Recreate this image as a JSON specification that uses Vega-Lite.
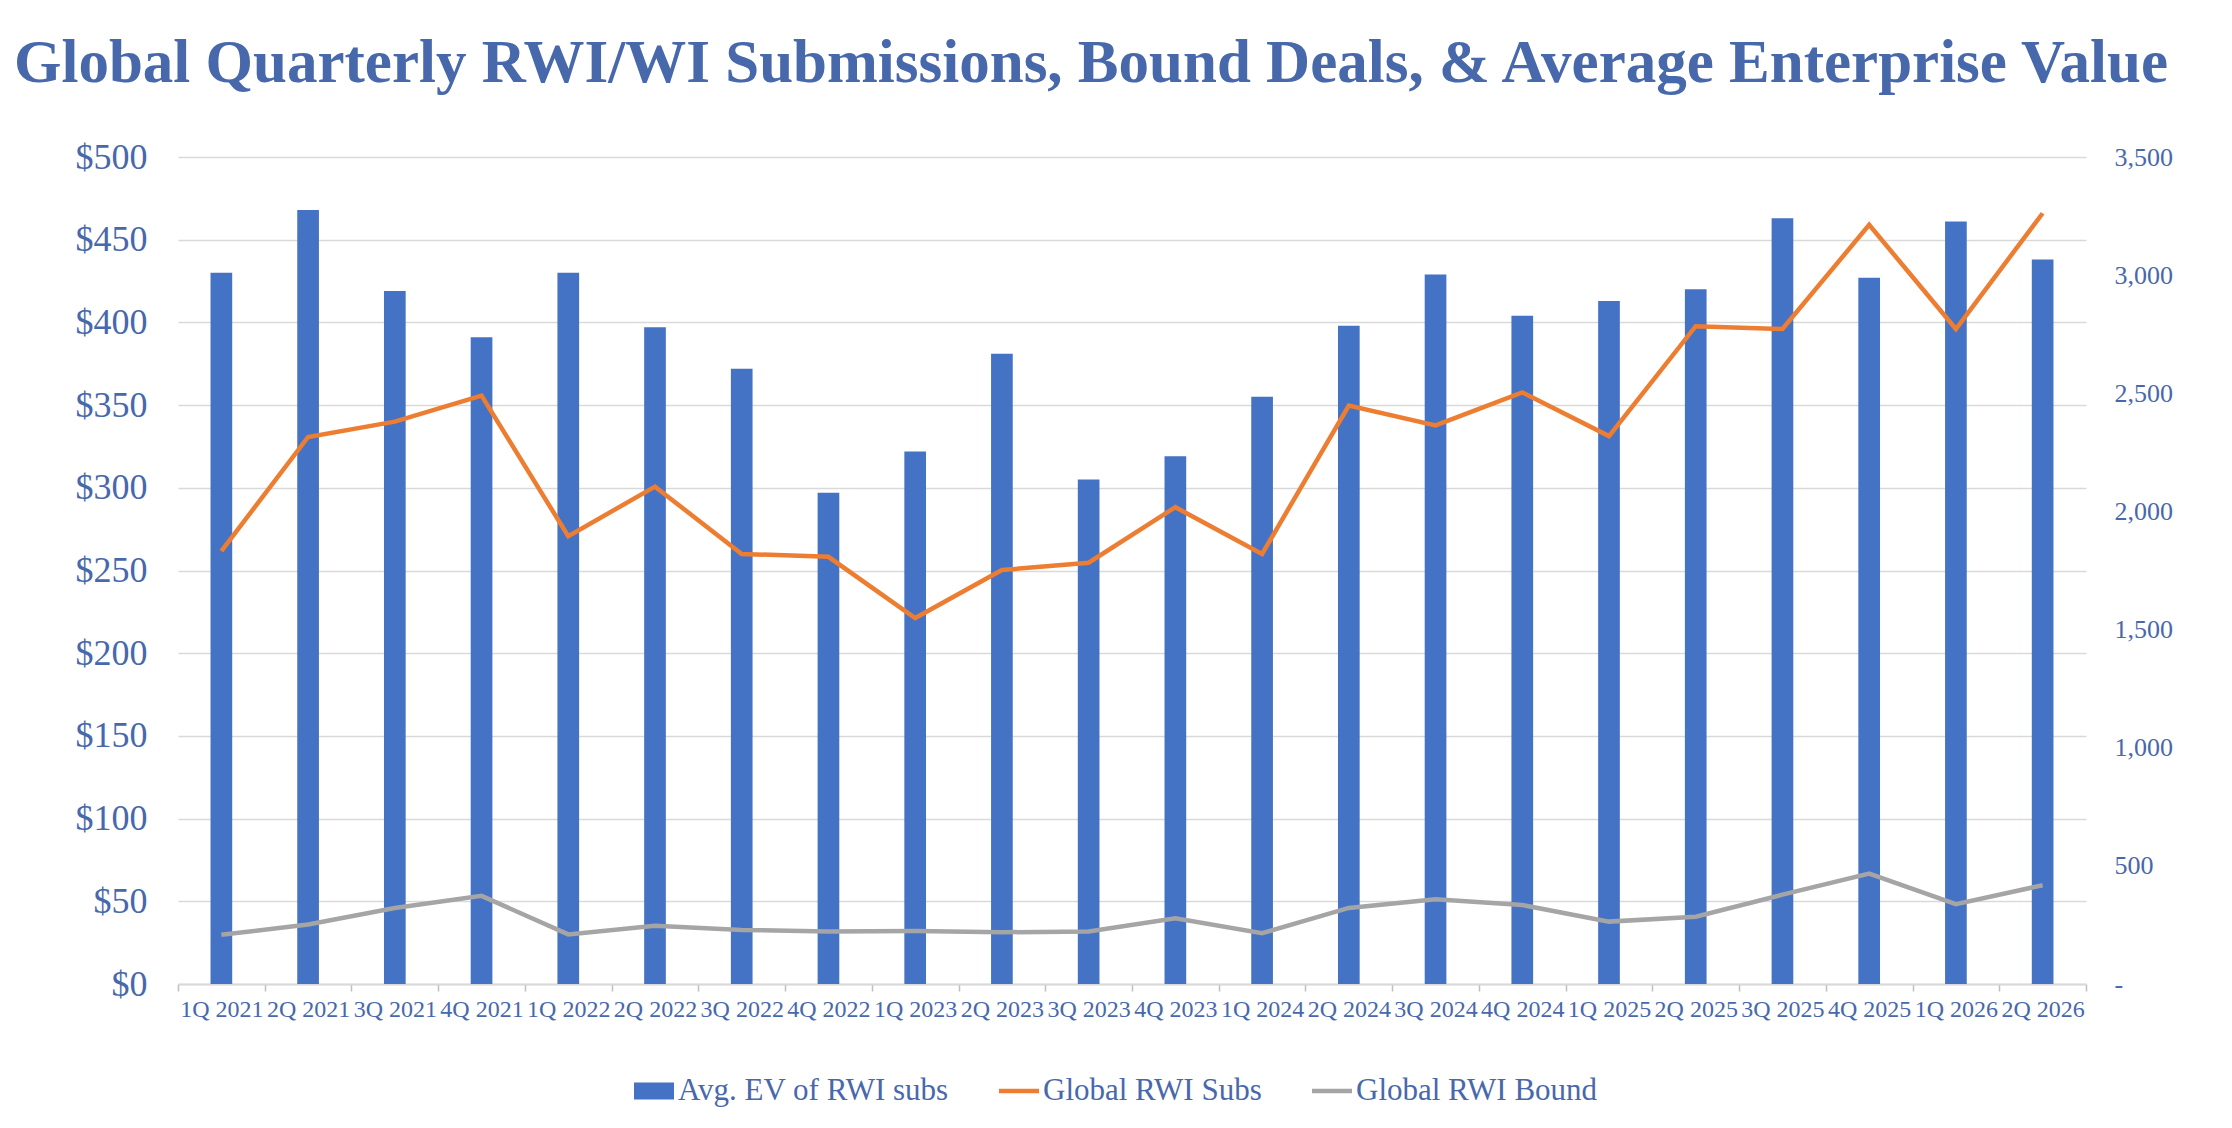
{
  "$schema": "https://vega.github.io/schema/vega-lite/v6.json",
  "width": 1908,
  "height": 827,
  "autosize": "none",
  "padding": {"left": 178, "top": 157, "right": 146, "bottom": 144},
  "background": "white",
  "title": {
    "text": "Global Quarterly RWI/WI Submissions, Bound Deals, & Average Enterprise Value",
    "font": "Liberation Serif",
    "fontSize": 61,
    "fontWeight": "bold",
    "color": "#4868AC",
    "anchor": "middle",
    "offset": 44,
    "dx": -41
  },
  "data": {
    "values": [
      {"q": "1Q 2021", "ev": 430, "subs": 1832, "bound": 208},
      {"q": "2Q 2021", "ev": 468, "subs": 2315, "bound": 252},
      {"q": "3Q 2021", "ev": 419, "subs": 2380, "bound": 322},
      {"q": "4Q 2021", "ev": 391, "subs": 2490, "bound": 373},
      {"q": "1Q 2022", "ev": 430, "subs": 1895, "bound": 210},
      {"q": "2Q 2022", "ev": 397, "subs": 2105, "bound": 247},
      {"q": "3Q 2022", "ev": 372, "subs": 1820, "bound": 229},
      {"q": "4Q 2022", "ev": 297, "subs": 1808, "bound": 222},
      {"q": "1Q 2023", "ev": 322, "subs": 1549, "bound": 224},
      {"q": "2Q 2023", "ev": 381, "subs": 1752, "bound": 219},
      {"q": "3Q 2023", "ev": 305, "subs": 1783, "bound": 222},
      {"q": "4Q 2023", "ev": 319, "subs": 2018, "bound": 278},
      {"q": "1Q 2024", "ev": 355, "subs": 1820, "bound": 215},
      {"q": "2Q 2024", "ev": 398, "subs": 2448, "bound": 322},
      {"q": "3Q 2024", "ev": 429, "subs": 2364, "bound": 359},
      {"q": "4Q 2024", "ev": 404, "subs": 2504, "bound": 334},
      {"q": "1Q 2025", "ev": 413, "subs": 2319, "bound": 264},
      {"q": "2Q 2025", "ev": 420, "subs": 2784, "bound": 285},
      {"q": "3Q 2025", "ev": 463, "subs": 2772, "bound": 378},
      {"q": "4Q 2025", "ev": 427, "subs": 3213, "bound": 467},
      {"q": "1Q 2026", "ev": 461, "subs": 2772, "bound": 338},
      {"q": "2Q 2026", "ev": 438, "subs": 3262, "bound": 418}
    ]
  },
  "encoding": {
    "x": {
      "field": "q",
      "type": "ordinal",
      "sort": null,
      "scale": {"paddingInner": 0, "paddingOuter": 0},
      "axis": {
        "title": null,
        "labelAngle": 0,
        "labelFont": "Liberation Serif",
        "labelFontSize": 24,
        "labelColor": "#4868AC",
        "labelPadding": 6,
        "labelOverlap": false,
        "labelBound": false,
        "domainColor": "#D9D9D9",
        "domainWidth": 2,
        "tickColor": "#BFBFBF",
        "tickWidth": 1.5,
        "tickSize": 7,
        "tickBand": "extent",
        "grid": false
      }
    }
  },
  "layer": [
    {
      "mark": {"type": "bar", "width": {"band": 0.25}},
      "encoding": {
        "y": {
          "field": "ev",
          "type": "quantitative",
          "scale": {"domain": [0, 500], "nice": false},
          "axis": {
            "title": null,
            "values": [0, 50, 100, 150, 200, 250, 300, 350, 400, 450, 500],
            "labelExpr": "'$' + datum.value",
            "labelFont": "Liberation Serif",
            "labelFontSize": 36,
            "labelColor": "#4868AC",
            "labelPadding": 31,
            "domain": false,
            "ticks": false,
            "grid": true,
            "gridColor": "#D9D9D9",
            "gridWidth": 1.5
          }
        },
        "color": {
          "datum": "Avg. EV of RWI subs",
          "scale": {
            "domain": ["Avg. EV of RWI subs", "Global RWI Subs", "Global RWI Bound"],
            "range": ["#4472C4", "#ED7D31", "#A5A5A5"]
          },
          "legend": {
            "orient": "none",
            "legendX": 456,
            "legendY": 914,
            "direction": "horizontal",
            "title": null,
            "labelFont": "Liberation Serif",
            "labelFontSize": 31,
            "labelColor": "#4868AC",
            "labelLimit": 0,
            "labelOffset": 4,
            "symbolSize": 1600,
            "columnPadding": 50,
            "encode": {
              "symbols": {
                "update": {
                  "shape": {"signal": "datum.value === 'Avg. EV of RWI subs' ? 'M-1,-0.42H1V0.42H-1Z' : 'M-1,-0.11H1V0.11H-1Z'"},
                  "fill": {"signal": "scale('color', datum.value)"},
                  "stroke": {"value": "transparent"},
                  "strokeWidth": {"value": 0},
                  "opacity": {"value": 1}
                }
              }
            }
          }
        }
      }
    },
    {
      "layer": [
        {
          "mark": {"type": "line", "strokeWidth": 4.5},
          "encoding": {
            "y": {
              "field": "subs",
              "type": "quantitative",
              "scale": {"domain": [0, 3500], "nice": false},
              "axis": {
                "orient": "right",
                "title": null,
                "values": [0, 500, 1000, 1500, 2000, 2500, 3000, 3500],
                "labelExpr": "datum.value == 0 ? '-' : format(datum.value, ',')",
                "labelFont": "Liberation Serif",
                "labelFontSize": 26,
                "labelColor": "#4868AC",
                "labelPadding": 28,
                "domain": false,
                "ticks": false,
                "grid": false
              }
            },
            "color": {"datum": "Global RWI Subs"}
          }
        },
        {
          "mark": {"type": "line", "strokeWidth": 4.5},
          "encoding": {
            "y": {
              "field": "bound",
              "type": "quantitative",
              "axis": {
                "orient": "right",
                "title": null,
                "values": [0, 500, 1000, 1500, 2000, 2500, 3000, 3500],
                "labelExpr": "datum.value == 0 ? '-' : format(datum.value, ',')",
                "labelFont": "Liberation Serif",
                "labelFontSize": 26,
                "labelColor": "#4868AC",
                "labelPadding": 28,
                "domain": false,
                "ticks": false,
                "grid": false
              }
            },
            "color": {"datum": "Global RWI Bound"}
          }
        }
      ]
    }
  ],
  "resolve": {"scale": {"y": "independent"}},
  "config": {"view": {"stroke": null}, "font": "Liberation Serif"}
}
